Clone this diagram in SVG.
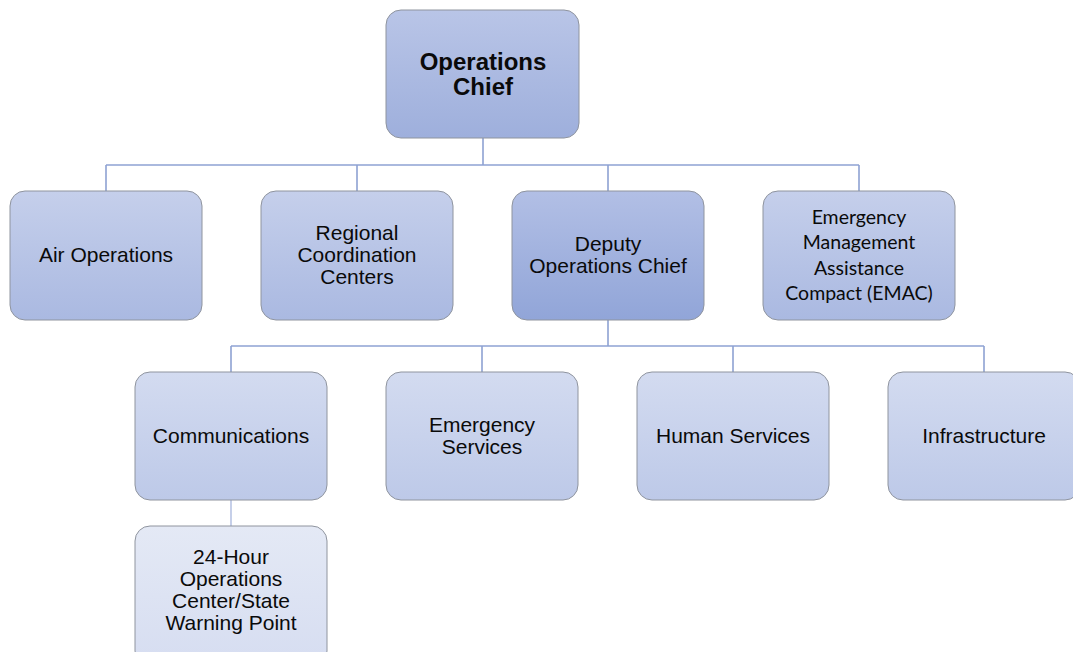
<svg xmlns="http://www.w3.org/2000/svg" width="1073" height="652" viewBox="0 0 1073 652">
<defs>
<linearGradient id="gTop" x1="0" y1="0" x2="0" y2="1"><stop offset="0" stop-color="#b9c5e7"/><stop offset="1" stop-color="#9eafdc"/></linearGradient>
<linearGradient id="gDep" x1="0" y1="0" x2="0" y2="1"><stop offset="0" stop-color="#b2bfe5"/><stop offset="1" stop-color="#91a5d8"/></linearGradient>
<linearGradient id="g2" x1="0" y1="0" x2="0" y2="1"><stop offset="0" stop-color="#c5cfeb"/><stop offset="1" stop-color="#aab9e1"/></linearGradient>
<linearGradient id="g3" x1="0" y1="0" x2="0" y2="1"><stop offset="0" stop-color="#d3dbf0"/><stop offset="1" stop-color="#bdc9e8"/></linearGradient>
<linearGradient id="g4" x1="0" y1="0" x2="0" y2="1"><stop offset="0" stop-color="#e4e9f5"/><stop offset="1" stop-color="#d6ddf1"/></linearGradient>
</defs>
<style>
.box{stroke:#8f949e;stroke-width:1}
.t{font-family:"Liberation Sans",Arial,sans-serif;font-size:21px;fill:#0a0a0a;text-anchor:middle}
.b{font-weight:bold;font-size:24px}
.c{font-family:Lato,"Open Sans",sans-serif;font-size:19.5px}
.ln{stroke:#8ea2d3;stroke-width:1.6;fill:none}
.ln2{stroke:#b8c4e4;stroke-width:1.6;fill:none}
</style>
<g id="connectors">
<path class="ln" d="M483 138V165M106 165H859M106 165V191M357 165V191M608 165V191M859 165V191"/>
<path class="ln" d="M608 320V346M231 346H984M231 346V372M482 346V372M733 346V372M984 346V372"/>
<path class="ln2" d="M231 500V526"/>
</g>
<g id="ops-chief"><rect class="box" x="386" y="10" width="193" height="128" rx="15" fill="url(#gTop)"/>
<text class="t b" x="483" y="70">Operations</text><text class="t b" x="483" y="95">Chief</text></g>
<g id="air-ops"><rect class="box" x="10" y="191" width="192" height="129" rx="15" fill="url(#g2)"/>
<text class="t" x="106" y="262">Air Operations</text></g>
<g id="regional"><rect class="box" x="261" y="191" width="192" height="129" rx="15" fill="url(#g2)"/>
<text class="t" x="357" y="240">Regional</text><text class="t" x="357" y="262">Coordination</text><text class="t" x="357" y="284">Centers</text></g>
<g id="deputy"><rect class="box" x="512" y="191" width="192" height="129" rx="15" fill="url(#gDep)"/>
<text class="t" x="608" y="251">Deputy</text><text class="t" x="608" y="273">Operations Chief</text></g>
<g id="emac"><rect class="box" x="763" y="191" width="192" height="129" rx="15" fill="url(#g2)"/>
<text class="t c" x="859" y="224">Emergency</text><text class="t c" x="859" y="249">Management</text><text class="t c" x="859" y="275">Assistance</text><text class="t c" x="859" y="300">Compact (EMAC)</text></g>
<g id="communications"><rect class="box" x="135" y="372" width="192" height="128" rx="15" fill="url(#g3)"/>
<text class="t" x="231" y="443">Communications</text></g>
<g id="emergency-services"><rect class="box" x="386" y="372" width="192" height="128" rx="15" fill="url(#g3)"/>
<text class="t" x="482" y="432">Emergency</text><text class="t" x="482" y="454">Services</text></g>
<g id="human-services"><rect class="box" x="637" y="372" width="192" height="128" rx="15" fill="url(#g3)"/>
<text class="t" x="733" y="443">Human Services</text></g>
<g id="infrastructure"><rect class="box" x="888" y="372" width="192" height="128" rx="15" fill="url(#g3)"/>
<text class="t" x="984" y="443">Infrastructure</text></g>
<g id="warning-point"><rect class="box" x="135" y="526" width="192" height="140" rx="15" fill="url(#g4)"/>
<text class="t" x="231" y="564">24-Hour</text><text class="t" x="231" y="586">Operations</text><text class="t" x="231" y="608">Center/State</text><text class="t" x="231" y="630">Warning Point</text></g>
</svg>
